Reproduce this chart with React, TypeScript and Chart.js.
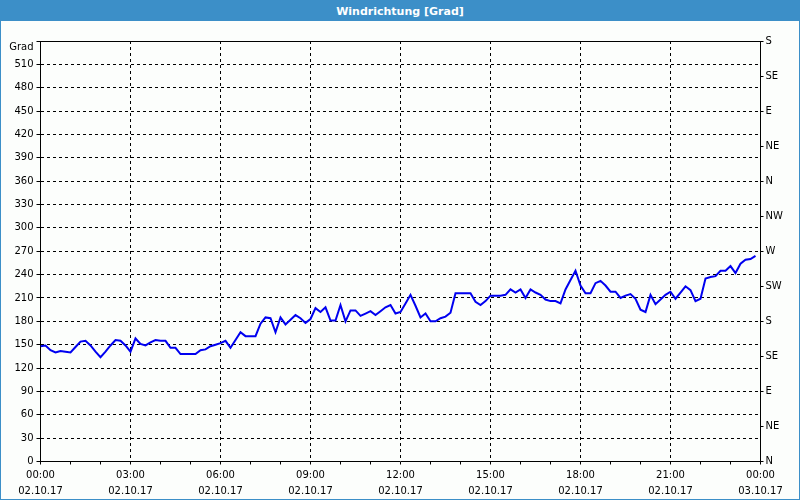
import React, { useEffect, useRef } from 'react';
import { Chart, registerables } from 'chart.js';

Chart.register(...registerables);

const TITLE = 'Windrichtung [Grad]';
const Y_UNIT = 'Grad';
const SAMPLE_MINUTES = 10;

// wind direction in degrees, one value every 10 minutes, 02.10.17
const dir00to06 = [148, 149, 143, 140, 142, 141, 140, 147, 154, 155, 149, 141, 134, 141, 149, 156, 155, 149, 141, 158, 151, 149, 153, 156, 155, 155, 146, 146, 138, 138, 138, 138, 143, 144, 148, 150];
const dir06to12 = [152, 155, 146, 156, 166, 161, 161, 161, 177, 185, 184, 166, 185, 176, 182, 188, 184, 178, 183, 197, 192, 198, 181, 181, 201, 180, 194, 194, 187, 190, 193, 188, 193, 198, 201, 190];
const dir12to18 = [192, 203, 214, 200, 185, 190, 180, 180, 184, 186, 191, 216, 216, 216, 216, 205, 201, 206, 213, 213, 213, 214, 221, 217, 221, 210, 221, 217, 214, 208, 206, 206, 203, 221, 233, 245];
const dir18to24 = [226, 216, 216, 229, 232, 226, 218, 218, 210, 213, 215, 209, 195, 192, 214, 202, 208, 214, 218, 209, 217, 225, 220, 206, 209, 235, 237, 238, 245, 245, 251, 242, 254, 259, 260, 264];

const TIME_LABELS = ['00:00', '03:00', '06:00', '09:00', '12:00', '15:00', '18:00', '21:00', '00:00'];
const DATE_LABELS = ['02.10.17', '02.10.17', '02.10.17', '02.10.17', '02.10.17', '02.10.17', '02.10.17', '02.10.17', '03.10.17'];
const COMPASS = ['N', 'NE', 'E', 'SE', 'S', 'SW', 'W', 'NW'];

const FONT = 'DejaVu Sans';

export default function App() {
  const ref = useRef<HTMLCanvasElement>(null);

  useEffect(() => {
    document.body.style.margin = '0';
    const values = [...dir00to06, ...dir06to12, ...dir12to18, ...dir18to24];
    const points = values.map((v, i) => ({ x: i * SAMPLE_MINUTES, y: v }));

    const chart = new Chart(ref.current as HTMLCanvasElement, {
      type: 'line',
      data: {
        datasets: [
          {
            data: points,
            borderColor: '#0000f0',
            borderWidth: 2,
            pointRadius: 0,
            tension: 0,
            fill: false,
            xAxisID: 'x',
            yAxisID: 'y',
          },
        ],
      },
      options: {
        responsive: false,
        animation: false,
        layout: { padding: 0 },
        plugins: { legend: { display: false }, tooltip: { enabled: false }, title: { display: false } },
        scales: {
          x: {
            type: 'linear',
            position: 'bottom',
            min: 0,
            max: 1440,
            ticks: {
              stepSize: 60,
              autoSkip: false,
              maxRotation: 0,
              minRotation: 0,
              padding: 3,
              color: '#000',
              font: { family: FONT, size: 10, lineHeight: 1.6 },
              callback: (v: any) => (Number(v) % 180 === 0 ? [TIME_LABELS[Number(v) / 180], DATE_LABELS[Number(v) / 180]] : ''),
            },
            grid: {
              color: (c: any) => (c.tick && c.tick.value % 180 === 0 ? '#000' : 'rgba(0,0,0,0)'),
              tickColor: '#000',
              tickLength: 3,
              tickBorderDash: [],
            },
            border: { display: true, color: '#000', width: 1, dash: [3, 3] },
            afterFit: (s: any) => {
              s.height = 37.5;
            },
          },
          x2: {
            type: 'linear',
            position: 'top',
            min: 0,
            max: 1440,
            ticks: { display: false },
            grid: { display: false, drawTicks: false },
            border: { display: true, color: '#000', width: 1 },
            afterFit: (s: any) => {
              s.height = 20;
            },
          },
          y: {
            type: 'linear',
            position: 'left',
            min: 0,
            max: 540,
            ticks: {
              stepSize: 30,
              autoSkip: false,
              padding: 3,
              color: '#000',
              font: { family: FONT, size: 10 },
              callback: (v: any) => (Number(v) === 540 ? ['', Y_UNIT] : String(v)),
            },
            grid: { color: '#000', tickColor: '#000', tickLength: 4, tickBorderDash: [] },
            border: { display: true, color: '#000', width: 1, dash: [3, 3] },
            afterFit: (s: any) => {
              s.width = 39.5;
            },
          },
          y2: {
            type: 'linear',
            position: 'right',
            min: 0,
            max: 540,
            ticks: {
              stepSize: 45,
              autoSkip: false,
              padding: 2,
              color: '#000',
              font: { family: FONT, size: 10 },
              callback: (v: any) => COMPASS[Math.round(Number(v) / 45) % 8],
            },
            grid: { drawOnChartArea: false, color: '#000', tickColor: '#000', tickLength: 3 },
            border: { display: true, color: '#000', width: 1 },
            afterFit: (s: any) => {
              s.width = 38.5;
            },
          },
        },
      },
    } as any);

    return () => chart.destroy();
  }, []);

  return (
    <div
      style={{
        width: 800,
        height: 500,
        boxSizing: 'border-box',
        border: '1px solid #3c8fc8',
        background: '#fcfefc',
        overflow: 'hidden',
      }}
    >
      <div
        style={{
          height: 20,
          background: '#3c8fc8',
          color: '#fff',
          font: `bold 11px "${FONT}"`,
          display: 'flex',
          alignItems: 'center',
          justifyContent: 'center',
        }}
      >
        {TITLE}
      </div>
      <canvas ref={ref} width={798} height={478} style={{ display: 'block' }} />
    </div>
  );
}
